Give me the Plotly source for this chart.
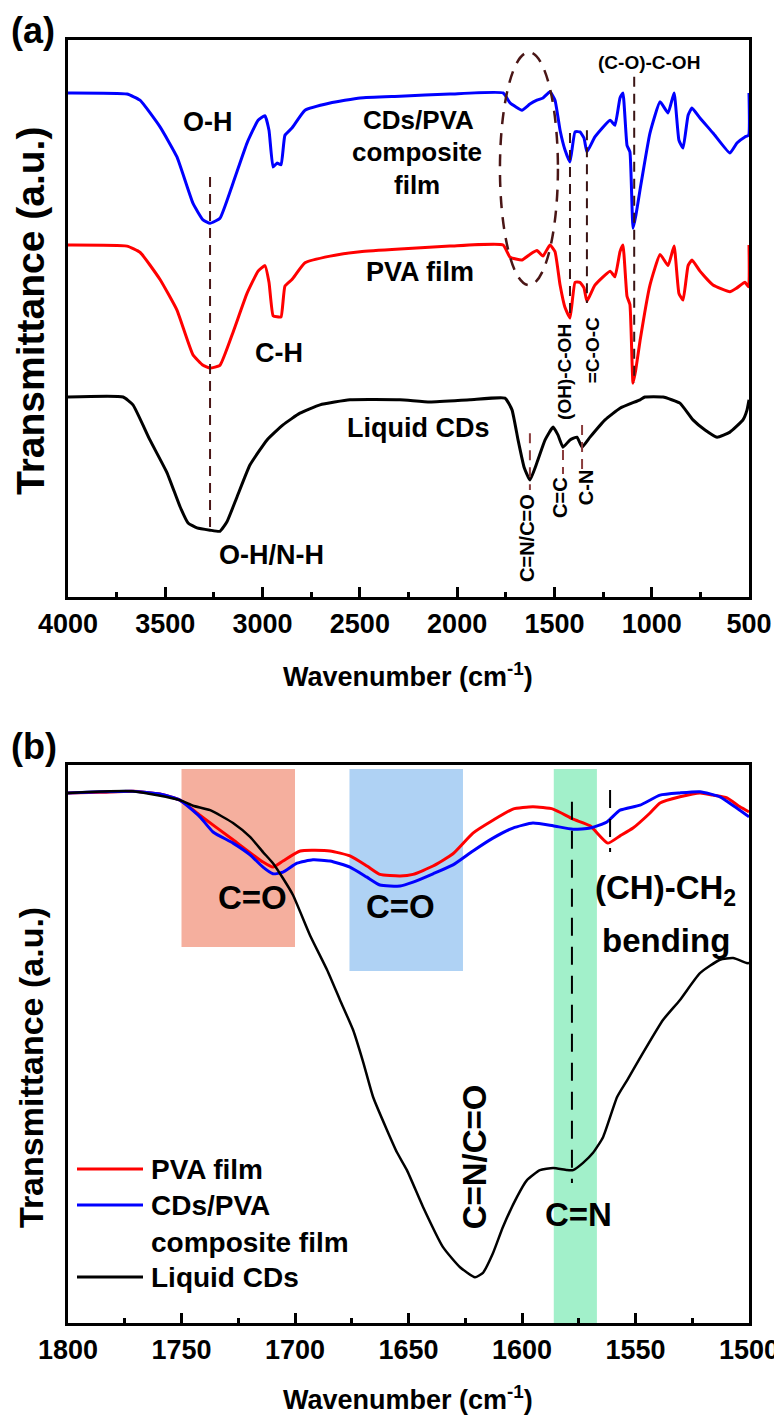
import plotly.graph_objects as go

# page body has an 8px margin; the figure is sized so that it fills the 782x1421 window
W, H = 774, 1413
OFF = 8

# ---------------- Panel (a) data ----------------
wn_a_films = [4000, 3697, 3630, 3527, 3440, 3358, 3306, 3270, 3219, 3152, 3080, 3023, 2988, 2967, 2946, 2926,
              2905, 2885, 2849, 2782, 2653, 2499, 2294, 2037, 1764, 1728, 1667, 1626, 1590, 1559, 1523, 1497,
              1471, 1446, 1420, 1394, 1369, 1348, 1333, 1292, 1214, 1189, 1163, 1148, 1127, 1112, 1096, 1081,
              1060, 1009, 957, 916, 885, 860, 839, 813, 793, 752, 685, 598, 562, 521, 502, 500]
t_a_composite = [90.5, 90.3, 89.2, 84.4, 79.0, 70.7, 67.7, 67.1, 68.0, 74.3, 81.5, 85.6, 86.4, 83.8, 77.2, 77.9,
                 77.6, 82.9, 84.2, 87.4, 88.7, 89.6, 89.9, 90.3, 90.5, 88.7, 87.4, 88.5, 89.2, 89.6, 90.7, 89.2,
                 83.8, 80.3, 78.1, 83.5, 83.5, 82.4, 79.9, 82.6, 85.6, 84.7, 89.6, 90.5, 81.1, 79.9, 66.2, 68.6,
                 73.1, 83.3, 88.9, 86.9, 90.5, 82.0, 80.6, 86.5, 87.8, 86.0, 83.3, 79.7, 81.5, 82.6, 82.9, 90.5]
t_a_pva = [63.2, 63.0, 61.9, 57.0, 51.5, 43.5, 41.6, 41.1, 41.6, 47.5, 54.5, 58.5, 59.5, 56.5, 50.5, 50.3,
           50.3, 55.8, 57.0, 60.0, 61.2, 62.0, 62.5, 63.0, 63.2, 61.0, 60.5, 61.5, 62.2, 61.2, 63.2, 62.0,
           56.0, 52.0, 50.1, 56.5, 56.5, 55.5, 53.1, 56.0, 58.5, 57.5, 62.0, 63.2, 54.0, 52.5, 38.4, 41.0,
           46.0, 56.0, 61.5, 59.5, 63.0, 54.5, 53.3, 59.5, 60.5, 58.5, 56.0, 54.8, 55.5, 56.5, 55.7, 63.2]
wn_a_cd = [4000, 3717, 3666, 3579, 3491, 3424, 3383, 3337, 3270, 3219, 3183, 3131, 3065, 2977, 2895, 2808,
           2705, 2551, 2294, 2140, 1934, 1754, 1718, 1687, 1656, 1626, 1590, 1548, 1507, 1482, 1456, 1420,
           1384, 1358, 1317, 1240, 1163, 1060, 1035, 942, 855, 788, 726, 664, 598, 531, 510, 500]
t_a_cd = [35.9, 35.9, 34.5, 28.2, 22.3, 16.2, 13.3, 12.4, 12.0, 11.8, 13.5, 18.0, 23.7, 28.2, 30.9, 33.0,
          34.5, 35.4, 35.4, 35.0, 35.4, 35.7, 33.6, 28.2, 23.3, 21.0, 24.1, 28.2, 30.5, 29.1, 26.9, 28.2,
          28.7, 26.9, 28.7, 31.8, 33.9, 35.4, 35.9, 35.9, 34.8, 31.8, 30.0, 28.7, 29.6, 31.8, 33.6, 35.4]
ticks_a = [4000, 3500, 3000, 2500, 2000, 1500, 1000, 500]

# dashed marker lines of panel (a)
dash_a_wn = [3270, 1420, 1333, 1090, 1626, 1456, 1358]
dash_a_top = [75.4, 83.3, 83.8, 93.4, 29.4, 26.4, 30.9]
dash_a_bot = [11.5, 50.3, 52.8, 38.4, 19.2, 22.1, 22.8]
dash_a_col = ["#4a1616", "#3a1414", "#3a1414", "#3a1414", "#8a3c3c", "#8a3c3c", "#8a3c3c"]
ellipse_a = dict(x0=1780, x1=1482, y0=56.0, y1=97.8)

# ---------------- Panel (b) data ----------------
wn_b_composite = [1800, 1785.9, 1771.4, 1759.5, 1750.7, 1741.9, 1736.1, 1727.3, 1719.8, 1714.1, 1709.7, 1705.3,
                  1699.1, 1692.1, 1684.6, 1675.8, 1668.3, 1662.6, 1653.7, 1648.0, 1639.2, 1630.4, 1621.6, 1612.8,
                  1604.0, 1595.2, 1586.3, 1577.5, 1570.0, 1562.6, 1556.8, 1548.0, 1539.2, 1530.4, 1521.6, 1512.8,
                  1506.2, 1500]
t_b_composite = [95.0, 95.2, 95.3, 94.8, 93.7, 90.7, 88.0, 86.0, 83.9, 81.7, 80.5, 80.8,
                 82.4, 83.0, 82.8, 81.7, 79.9, 78.5, 78.3, 79.0, 80.5, 82.1, 84.6, 86.9,
                 88.7, 89.6, 89.1, 88.5, 88.7, 89.8, 91.9, 92.8, 94.6, 95.0, 95.2, 94.3,
                 92.5, 90.7]
wn_b_pva = [1800, 1785.9, 1771.4, 1759.5, 1750.7, 1741.9, 1727.3, 1714.1, 1709.7, 1705.3, 1697.7, 1684.6,
            1675.8, 1668.3, 1662.6, 1653.7, 1648.0, 1639.2, 1630.4, 1621.6, 1612.8, 1604.0, 1595.2, 1586.3,
            1577.5, 1570.0, 1562.2, 1556.8, 1551.1, 1543.6, 1539.2, 1530.4, 1521.6, 1515.9, 1509.7, 1504.0, 1500]
t_b_pva = [95.0, 95.1, 95.3, 94.8, 93.7, 91.0, 86.6, 82.6, 81.7, 82.8, 84.6, 84.6,
           83.7, 81.9, 80.4, 80.1, 80.4, 81.9, 84.1, 87.8, 90.1, 92.1, 92.5, 92.1,
           90.3, 89.1, 86.0, 87.3, 88.7, 91.4, 93.2, 94.3, 95.0, 94.6, 94.1, 92.5, 91.6]
wn_b_cd = [1800, 1771.4, 1750.7, 1744.9, 1737.4, 1727.3, 1719.8, 1714.1, 1709.7, 1705.3, 1700.9, 1693.4,
           1685.9, 1680.2, 1674.4, 1670.0, 1665.6, 1659.5, 1655.1, 1650.7, 1643.6, 1634.8, 1627.3, 1620.7,
           1617.2, 1612.8, 1608.4, 1602.2, 1597.8, 1592.1, 1586.3, 1580.2, 1577.5, 1573.1, 1568.7, 1564.3,
           1558.1, 1553.7, 1546.7, 1537.9, 1530.4, 1521.6, 1512.8, 1507.0, 1500.9, 1500]
t_b_cd = [95.0, 95.3, 93.7, 92.7, 91.9, 89.6, 87.1, 84.4, 82.4, 79.7, 76.7, 69.5,
          63.3, 57.9, 52.5, 46.8, 40.5, 34.6, 30.6, 27.4, 20.8, 13.6, 10.0, 8.2,
          9.0, 12.5, 17.2, 22.6, 25.6, 27.4, 27.8, 27.4, 27.4, 28.7, 30.5, 33.3,
          40.5, 43.5, 48.4, 54.3, 57.9, 62.7, 65.1, 65.4, 64.5, 64.5]
ticks_b = [1800, 1750, 1700, 1650, 1600, 1550, 1500]

# highlighted bands of panel (b)
band_b_x0 = [1750, 1676, 1586]
band_b_x1 = [1700, 1626, 1567]
band_b_top = [99.3, 99.3, 99.3]
band_b_bot = [67.4, 63.1, 0]
band_b_col = ["#F5AF9E", "#AFD2F4", "#A2F0CA"]
dash_b_wn = [1578, 1561.2]
dash_b_top = [93.4, 95.5]
dash_b_bot = [25.1, 84.4]

FONT = "Liberation Sans, Arial, sans-serif"


def px(x):
    return (x - OFF) / W


def py(y):
    return 1 - (y - OFF) / H


fig = go.Figure()

fig.add_trace(go.Scatter(x=wn_a_films, y=t_a_composite, mode="lines",
                         line=dict(color="#0000FF", width=3, shape="spline", smoothing=0.4),
                         xaxis="x", yaxis="y", showlegend=False))
fig.add_trace(go.Scatter(x=wn_a_films, y=t_a_pva, mode="lines",
                         line=dict(color="#FF0000", width=3, shape="spline", smoothing=0.4),
                         xaxis="x", yaxis="y", showlegend=False))
fig.add_trace(go.Scatter(x=wn_a_cd, y=t_a_cd, mode="lines",
                         line=dict(color="#000000", width=3, shape="spline", smoothing=0.4),
                         xaxis="x", yaxis="y", showlegend=False))

fig.add_trace(go.Scatter(x=wn_b_pva, y=t_b_pva, mode="lines",
                         line=dict(color="#FF0000", width=3, shape="spline", smoothing=0.5),
                         xaxis="x2", yaxis="y2", name="PVA film", showlegend=False))
fig.add_trace(go.Scatter(x=wn_b_composite, y=t_b_composite, mode="lines",
                         line=dict(color="#0000FF", width=3, shape="spline", smoothing=0.5),
                         xaxis="x2", yaxis="y2", name="CDs/PVA composite film", showlegend=False))
fig.add_trace(go.Scatter(x=wn_b_cd, y=t_b_cd, mode="lines",
                         line=dict(color="#000000", width=2.5, shape="spline", smoothing=0.5),
                         xaxis="x2", yaxis="y2", name="Liquid CDs", showlegend=False))

shapes = []
for x, y0, y1, c in zip(dash_a_wn, dash_a_top, dash_a_bot, dash_a_col):
    shapes.append(dict(type="line", xref="x", yref="y", x0=x, x1=x, y0=y0, y1=y1,
                       line=dict(color=c, width=2, dash="10px,7px")))
shapes.append(dict(type="circle", xref="x", yref="y",
                   line=dict(color="#4a1616", width=2.5, dash="12px,9px"), **ellipse_a))
for x0, x1, y0, y1, c in zip(band_b_x0, band_b_x1, band_b_top, band_b_bot, band_b_col):
    shapes.append(dict(type="rect", xref="x2", yref="y2", x0=x0, x1=x1, y0=y0, y1=y1,
                       fillcolor=c, line=dict(width=0), layer="below"))
for x, y0, y1 in zip(dash_b_wn, dash_b_top, dash_b_bot):
    shapes.append(dict(type="line", xref="x2", yref="y2", x0=x, x1=x, y0=y0, y1=y1,
                       line=dict(color="#000000", width=2, dash="18px,11px")))

# manual legend for panel (b)
legend_names = ["PVA film", "CDs/PVA", "composite film", "Liquid CDs"]
legend_cols = ["#FF0000", "#0000FF", None, "#000000"]
legend_y = [1169, 1205, 1242, 1277]
for c, yy in zip(legend_cols, legend_y):
    if c:
        shapes.append(dict(type="line", xref="paper", yref="paper", x0=px(77), x1=px(143),
                           y0=py(yy), y1=py(yy), line=dict(color=c, width=3)))

ann = []


def A(text, x, y, xref, yref, size, angle=0, xanchor="center", yanchor="middle"):
    ann.append(dict(text=text, x=x, y=y, xref=xref, yref=yref, showarrow=False, textangle=angle,
                    xanchor=xanchor, yanchor=yanchor, borderpad=0,
                    font=dict(family=FONT, size=size, color="black", weight="bold")))


# panel (a) labels
A("O-H", 3280, 85.3, "x", "y", 27)
A("CDs/PVA", 2201, 85.6, "x", "y", 26)
A("composite", 2206, 79.9, "x", "y", 26)
A("film", 2206, 74.0, "x", "y", 26)
A("PVA film", 2191, 58.3, "x", "y", 27)
A("C-H", 2916, 43.8, "x", "y", 27)
A("Liquid CDs", 2201, 30.3, "x", "y", 27)
A("O-H/N-H", 2952, 7.5, "x", "y", 27)
A("(C-O)-C-OH", 1014, 95.9, "x", "y", 19)
A("(OH)-C-OH", 1446, 40.4, "x", "y", 19, angle=-90)
A("=C-O-C", 1307, 44.3, "x", "y", 19, angle=-90)
A("C=N/C=O", 1641, 10.6, "x", "y", 20, angle=-90)
A("C=C", 1471, 17.8, "x", "y", 20, angle=-90)
A("C-N", 1338, 19.7, "x", "y", 20, angle=-90)

# panel (b) labels
A("C=O", 1718.9, 76.3, "x2", "y2", 33)
A("C=O", 1653.7, 74.7, "x2", "y2", 33)
A("(CH)-CH<sub>2</sub>", 1537, 77.6, "x2", "y2", 33)
A("bending", 1536.6, 68.6, "x2", "y2", 33)
A("C=N/C=O", 1621.1, 29.7, "x2", "y2", 33, angle=-90)
A("C=N", 1574.9, 19.4, "x2", "y2", 33)

# legend texts
for name, yy in zip(legend_names, legend_y):
    A(name, px(150), py(yy), "paper", "paper", 28, xanchor="left")

# panel letters and axis titles
A("(a)", 0.002, 0.999, "paper", "paper", 36, xanchor="left", yanchor="top")
A("(b)", 0.002, py(747), "paper", "paper", 36, xanchor="left")
A("Transmittance (a.u.)", px(31), py(311), "paper", "paper", 39, angle=-90)
A("Transmittance (a.u.)", px(31), py(1068), "paper", "paper", 34, angle=-90)
A("Wavenumber (cm<sup>-1</sup>)", px(408), py(675), "paper", "paper", 27)
A("Wavenumber (cm<sup>-1</sup>)", px(408), py(1398), "paper", "paper", 27)

xdom = [px(68), px(749)]
axis_common = dict(showline=True, linecolor="black", linewidth=3, mirror=True, showgrid=False,
                   zeroline=False, automargin=False)

fig.update_layout(
    width=W, height=H, margin=dict(l=0, r=0, t=0, b=0, pad=0, autoexpand=False),
    paper_bgcolor="white", plot_bgcolor="white",
    font=dict(family=FONT, color="black", weight="bold"),
    xaxis=dict(domain=xdom, range=[4000, 500], anchor="y", tickmode="array", tickvals=ticks_a,
               ticks="inside", ticklen=10, tickwidth=3, tickcolor="black",
               minor=dict(dtick=250, tick0=500, ticks="inside", ticklen=5, tickwidth=3, tickcolor="black"),
               tickfont=dict(family=FONT, size=27, color="black", weight="bold"), ticklabelstandoff=1,
               **axis_common),
    yaxis=dict(domain=[py(597), py(40)], range=[0, 100], anchor="x", showticklabels=False, ticks="",
               **axis_common),
    xaxis2=dict(domain=xdom, range=[1800, 1500], anchor="y2", tickmode="array", tickvals=ticks_b,
                ticks="inside", ticklen=10, tickwidth=3, tickcolor="black",
                minor=dict(dtick=25, tick0=1500, ticks="inside", ticklen=5, tickwidth=3, tickcolor="black"),
                tickfont=dict(family=FONT, size=27, color="black", weight="bold"), ticklabelstandoff=1,
                **axis_common),
    yaxis2=dict(domain=[py(1323), py(765)], range=[0, 100], anchor="x2", showticklabels=False, ticks="",
                **axis_common),
    shapes=shapes,
    annotations=ann,
    showlegend=False,
)

fig.write_html("out.html")
